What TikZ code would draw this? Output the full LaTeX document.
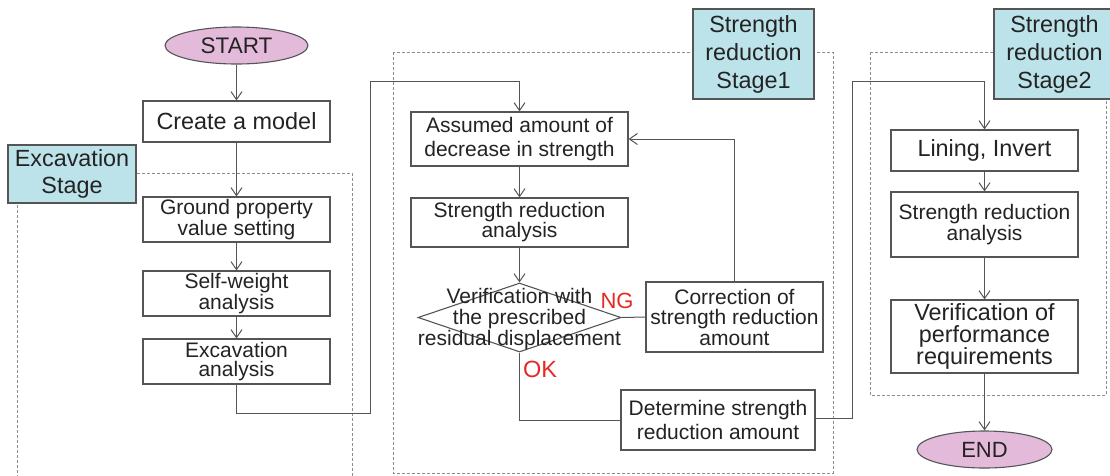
\documentclass[tikz,border=0pt]{standalone}
\usepackage{fontspec}
\setmainfont{Liberation Sans}
\usetikzlibrary{arrows.meta,shapes.geometric}
\newcommand{\fzs}[2]{\fontsize{#1pt}{#2pt}\selectfont}
\definecolor{linecol}{RGB}{85,85,85}
\definecolor{txtcol}{RGB}{35,35,35}
\definecolor{lblue}{RGB}{189,227,234}
\definecolor{lpink}{RGB}{228,186,218}
\definecolor{dashcol}{RGB}{140,140,140}
\definecolor{ngred}{RGB}{230,40,35}
\begin{document}
\begin{tikzpicture}[x=1pt,y=-1pt,
  box/.style={draw=linecol, line width=1.1pt, fill=white, text=txtcol, inner sep=0pt, align=center},
  term/.style={ellipse, draw=linecol, line width=1.1pt, fill=lpink, text=txtcol, inner sep=0pt},
  stagelabel/.style={draw=linecol, line width=1.1pt, fill=lblue, text=txtcol, inner sep=0pt, align=center, minimum width=121pt, minimum height=90pt},
  arr/.style={draw=linecol, line width=1pt, -{Straight Barb[length=8pt,width=11pt]}},
  ln/.style={draw=linecol, line width=1pt},
  stagebox/.style={draw=dashcol, line width=0.8pt, dash pattern=on 3pt off 2pt},
  redtext/.style={text=ngred, inner sep=0pt}
]
\useasboundingbox (0,0) rectangle (1110,475);

% stage frames (dashed)
\draw[stagebox] (17,478) -- (17,173) -- (352,173) -- (352,478);
\draw[stagebox] (393,52) rectangle (833,473);
\draw[stagebox] (870,52) rectangle (1106,395);

% stage labels
\node[stagelabel, minimum width=128pt, minimum height=58pt, font=\fzs{23.4}{27}] (lexc) at (72,174) {Excavation\\Stage};
\node[stagelabel, font=\fzs{23.4}{28}] (ls1) at (753.5,54) {Strength\\reduction\\Stage1};
\node[stagelabel, font=\fzs{23.4}{28}] (ls2) at (1054.5,54) {Strength\\reduction\\Stage2};

% left column
\node[term, minimum width=143pt, minimum height=37pt, font=\fzs{22.5}{24}] (start) at (236.5,45.5) {START};
\node[box, minimum width=187pt, minimum height=41pt, font=\fzs{23.4}{25}] (create) at (236.5,121.5) {Create a model};
\node[box, minimum width=187pt, minimum height=45pt, font=\fzs{21}{19}] (ground) at (236.5,219.5) {Ground property\\value setting};
\node[box, minimum width=187pt, minimum height=45pt, font=\fzs{21}{19}] (self) at (236.5,293.5) {Self-weight\\analysis};
\node[box, minimum width=187pt, minimum height=45pt, font=\fzs{21}{19}] (exc) at (236.5,361.5) {Excavation\\analysis};

% middle column
\node[box, minimum width=217pt, minimum height=54pt, font=\fzs{21}{23.4}] (assumed) at (519.5,139) {Assumed amount of\\decrease in strength};
\node[box, minimum width=217pt, minimum height=49pt, font=\fzs{21}{20}] (sra1) at (519.5,222.5) {Strength reduction\\analysis};
\node[diamond, draw=linecol, line width=1.1pt, fill=white, inner sep=0pt, minimum width=203pt, minimum height=69pt] (dec) at (519.5,317.5) {};
\node[text=txtcol, align=center, inner sep=0pt, font=\fzs{21}{21}] (dectext) at (519.5,319) {Verification with\\the prescribed\\residual displacement};
\node[redtext, font=\fzs{22}{22}] (ng) at (617,301) {NG};
\node[redtext, font=\fzs{23.5}{24}] (ok) at (540,369.5) {OK};
\node[box, minimum width=177pt, minimum height=70pt, font=\fzs{21}{20.5}] (corr) at (734.5,317) {Correction of\\strength reduction\\amount};
\node[box, minimum width=194pt, minimum height=60pt, font=\fzs{21}{24.3}] (det) at (718,420) {Determine strength\\reduction amount};

% right column
\node[box, minimum width=187pt, minimum height=41pt, font=\fzs{23.4}{25}] (lining) at (984.5,150.5) {Lining, Invert};
\node[box, minimum width=187pt, minimum height=65pt, font=\fzs{21}{19}] (sra2) at (984.5,224.5) {Strength reduction\\analysis};
\node[box, minimum width=187pt, minimum height=73pt, font=\fzs{23.4}{22}] (verif) at (984.5,336.5) {Verification of\\performance\\requirements};
\node[term, minimum width=135pt, minimum height=37pt, font=\fzs{22}{24}] (end) at (984.5,449.5) {END};

% junction coordinates
\coordinate (j1) at (370,413);
\coordinate (j2) at (370,81);
\coordinate (j3) at (852,418);
\coordinate (j4) at (852,81);

% connectors
\draw[arr] (start) -- (create);
\draw[arr] (create) -- (ground);
\draw[arr] (ground) -- (self);
\draw[arr] (self) -- (exc);
\draw[arr] (exc.south) |- (j1) -- (j2) -| (assumed.north);
\draw[arr] (assumed) -- (sra1);
\draw[arr] (sra1) -- (dec.north);
\draw[ln] (dec.east) -- (corr.west);
\draw[arr] (corr.north) |- (assumed.east);
\draw[ln] (dec.south) |- (det.west);
\draw[arr] (det.east |- j3) -- (j3) -- (j4) -| (lining.north);
\draw[arr] (lining) -- (sra2);
\draw[arr] (sra2) -- (verif);
\draw[arr] (verif) -- (end);
\end{tikzpicture}
\end{document}
